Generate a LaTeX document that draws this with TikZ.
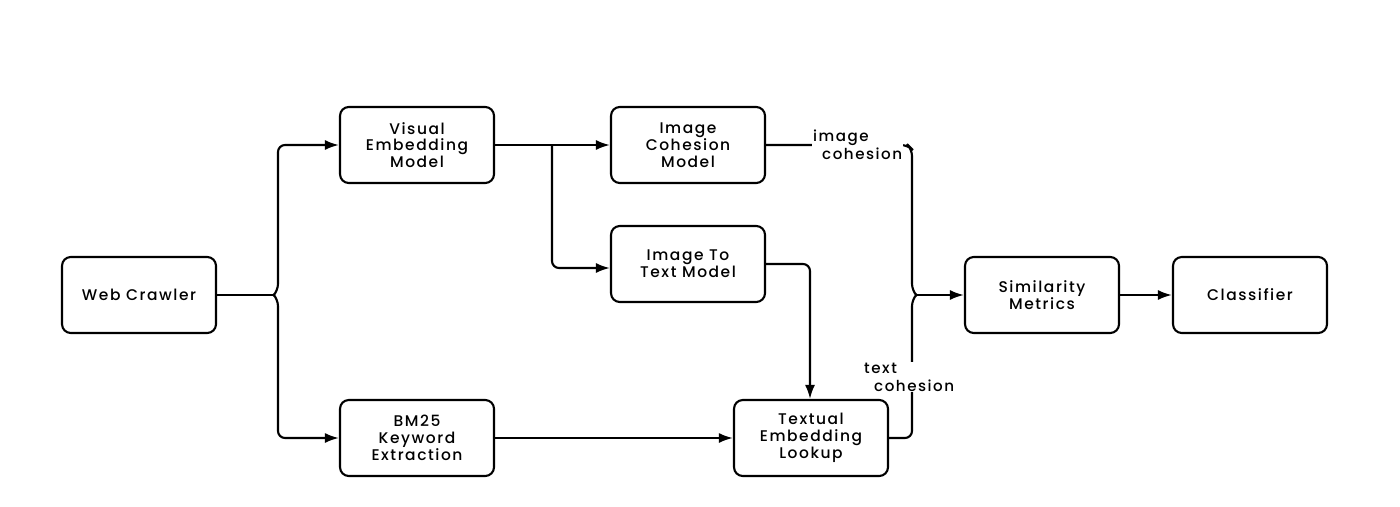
\documentclass[tikz,border=0pt]{standalone}
\usepackage{fontspec}
\setmainfont[LetterSpace=10]{Poppins Medium}
\usetikzlibrary{arrows.meta}
\begin{document}
\begin{tikzpicture}[x=0.02cm,y=-0.02cm,
  box/.style={draw,line width=1.2pt,rounded corners=5,minimum width=3.08cm,minimum height=1.52cm,align=center,font=\fontsize{8.8}{9.6}\selectfont,inner sep=0pt},
  conn/.style={line width=1.2pt,rounded corners=4},
  arr/.style={conn,-{Latex[length=0.28cm,width=0.2cm]}},
  lbl/.style={font=\fontsize{8.6}{10}\selectfont,align=left,inner sep=0.5pt}]
\useasboundingbox (0,0) rectangle (1400,507);
\node[box] (wc) at (139,295) {Web Crawler};
\node[box] (vem) at (417,145) {Visual\\Embedding\\Model};
\node[box] (bm) at (417,438) {BM25\\Keyword\\Extraction};
\node[box] (icm) at (688,145) {Image\\Cohesion\\Model};
\node[box] (itt) at (688,264) {Image To\\Text Model};
\node[box] (tel) at (811,438) {Textual\\Embedding\\Lookup};
\node[box] (sim) at (1042,295) {Similarity\\Metrics};
\node[box] (cls) at (1250,295) {Classifier};
% left fork
\draw[conn] (wc.east) -- (274,295);
\draw[arr] (274,295) -- (278,291) -- (278,145) -- (vem.west);
\draw[arr] (274,295) -- (278,299) -- (278,438) -- (bm.west);
% visual branches
\draw[arr] (vem.east) -- (icm.west);
\coordinate (j2) at (552,145);
\draw[arr] (j2) -- (552,268) -- (itt.west |- 0,268);
\draw[arr] (itt.east) -- (810,264) -- (tel.north -| 810,0);
\draw[arr] (bm.east) -- (tel.west);
% right brace
\draw[conn] (icm.east) -- (908,145) -- (912,149) -- (912,291) -- (916,295);
\draw[conn] (tel.east) -- (912,438) -- (912,299) -- (916,295);
\draw[arr] (916,295) -- (sim.west);
\draw[arr] (sim.east) -- (cls.west);
\node[lbl,fill=white,anchor=north west] (ilbl) at (812,129) {image\\\hspace*{0.18cm}cohesion};
\node[lbl,fill=white,anchor=north west] (tlbl) at (863,362) {text\\\hspace*{0.2cm}cohesion};
\end{tikzpicture}
\end{document}
